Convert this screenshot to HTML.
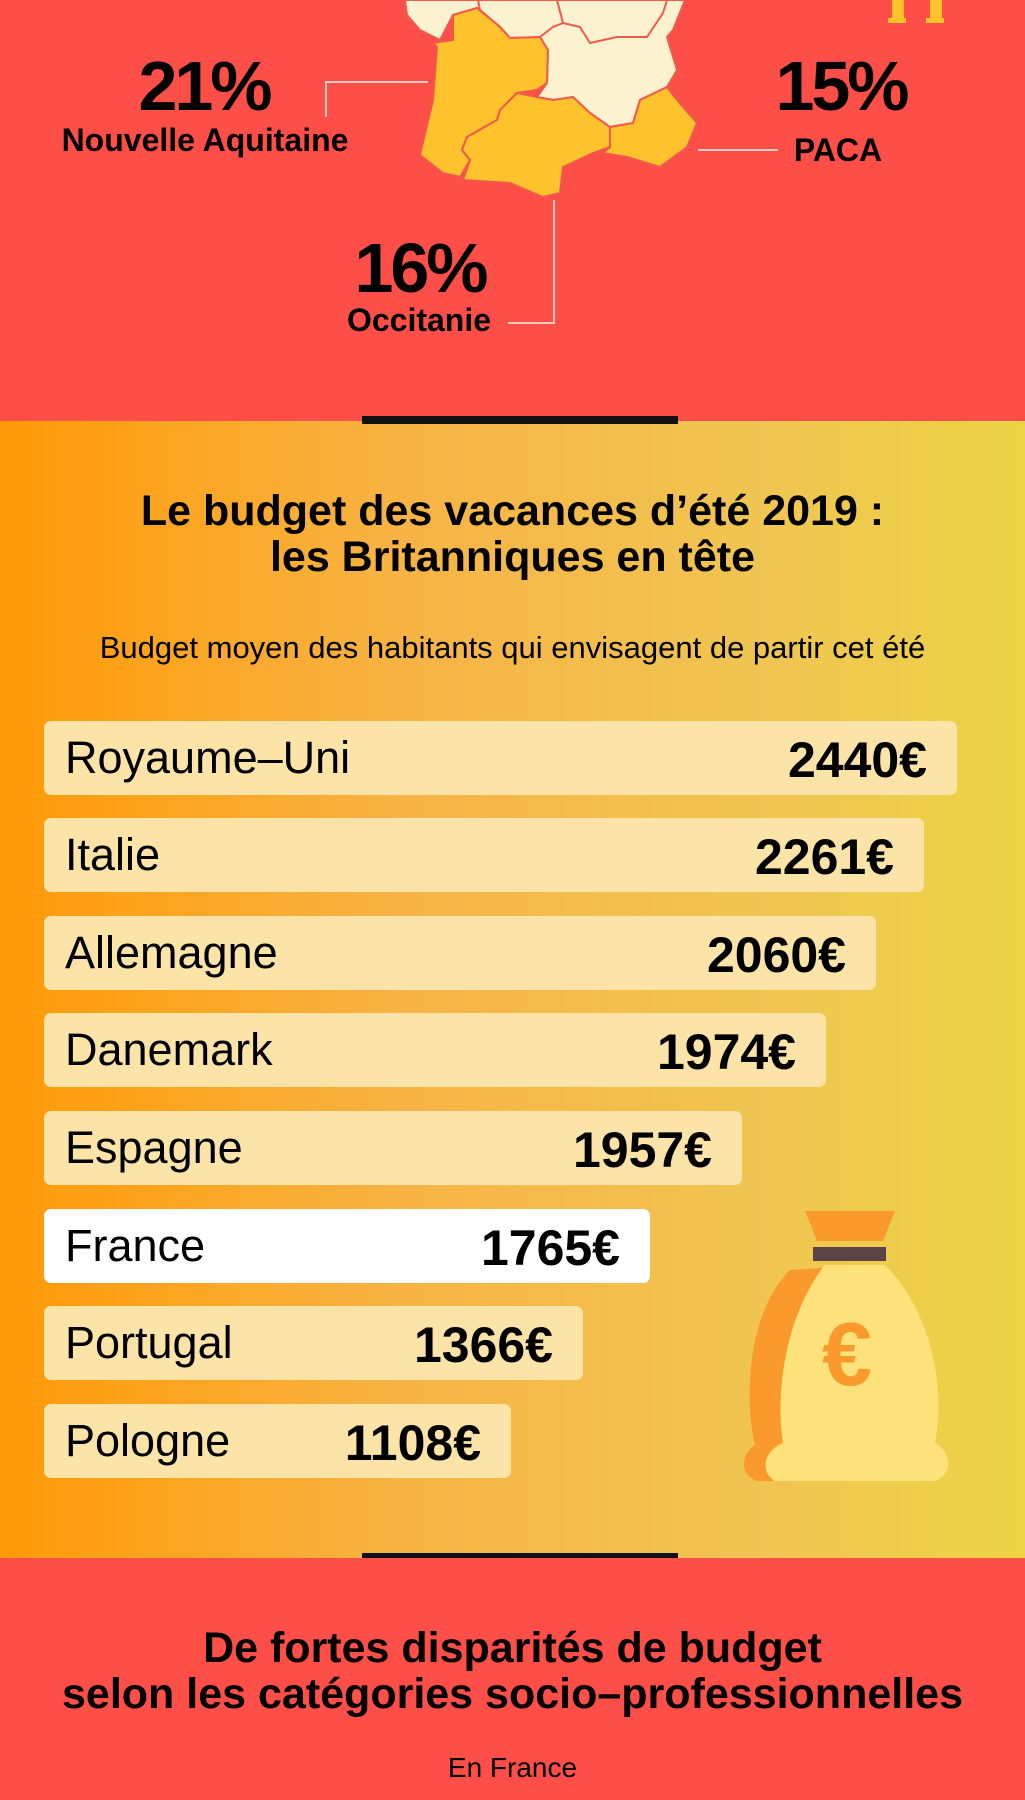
<!DOCTYPE html>
<html><head><meta charset="utf-8">
<style>
*{margin:0;padding:0;box-sizing:border-box}
body{width:1025px;height:1800px;position:relative;overflow:hidden;font-family:"Liberation Sans",sans-serif;background:#fe4e48;color:#000}
.abs{position:absolute}
.c{text-align:center}
.big{font-weight:bold;font-size:70px;letter-spacing:-3px}
.lab{font-weight:bold;font-size:32px}
.grad{position:absolute;left:0;top:421px;width:1025px;height:1137px;background:linear-gradient(90deg,#ff9a07 0%,#f7b445 40%,#f0c552 75%,#ecd444 100%)}
.bar{position:absolute;left:44px;height:74px;background:#fce3a8;border-radius:7px}
.bar .n{position:absolute;left:21px;top:11px;font-size:45px}
.bar .v{position:absolute;right:30px;top:10px;font-size:50px;font-weight:bold;letter-spacing:0px}
</style></head><body>
<svg class="abs" style="left:0;top:0" width="1025" height="421">
<polygon points="405,0 685,0 673,30 667,37 677,70 667,87 640,100 633,123 610,127 590,113 573,97 553,100 537,97 547,83 548,50 540,37 510,38 500,27 477,8 453,15 440,40 420,30 407,15" fill="#fdf2cf" stroke="#f05a4a" stroke-width="2"/>
<polyline points="478,0 480,10 500,27" fill="none" stroke="#f05a4a" stroke-width="2"/>
<polyline points="557,0 563,23 553,27 540,37" fill="none" stroke="#f05a4a" stroke-width="2"/>
<polyline points="563,23 580,27 590,43 617,37 647,37 663,13 667,0" fill="none" stroke="#f05a4a" stroke-width="2"/>
<polygon points="453,15 477,8 500,27 510,38 540,37 548,50 547,83 537,90 517,93 500,110 497,120 467,137 462,150 470,160 460,177 443,173 420,155 433,100 437,47 433,43 453,40" fill="#fec22d" stroke="#f05a4a" stroke-width="2"/>
<polygon points="467,137 497,120 500,110 517,93 537,97 553,100 573,97 590,113 610,127 610,147 593,153 563,167 560,193 543,197 510,183 463,180 470,160 462,150" fill="#fec22d" stroke="#f05a4a" stroke-width="2"/>
<polygon points="610,127 633,123 640,100 667,87 677,100 697,123 687,147 660,167 627,157 603,153 610,147" fill="#fec22d" stroke="#f05a4a" stroke-width="2"/>
<rect x="892" y="0" width="12" height="20" fill="#fec22d"/><rect x="930" y="0" width="12" height="20" fill="#fec22d"/>
<rect x="888" y="18" width="18" height="5" fill="#fec22d"/><rect x="926" y="18" width="18" height="5" fill="#fec22d"/>
<polyline points="326,117 326,82 428,82" fill="none" stroke="#f6c9c0" stroke-width="2"/>
<line x1="698" y1="150" x2="778" y2="150" stroke="#f6c9c0" stroke-width="2"/>
<polyline points="554,200 554,323 508,323" fill="none" stroke="#f6c9c0" stroke-width="2"/>
</svg>
<div class="abs big c" style="left:104px;top:46px;width:200px">21%</div>
<div class="abs lab c" style="left:20px;top:122px;width:370px">Nouvelle Aquitaine</div>
<div class="abs big c" style="left:741px;top:46px;width:200px">15%</div>
<div class="abs lab c" style="left:758px;top:132px;width:160px">PACA</div>
<div class="abs big c" style="left:320px;top:228px;width:200px">16%</div>
<div class="abs lab c" style="left:309px;top:302px;width:220px">Occitanie</div>

<div class="grad"></div>
<div class="abs" style="left:362px;top:416px;width:316px;height:8px;background:#111"></div>
<div class="abs" style="left:362px;top:1553px;width:316px;height:8px;background:#111"></div>
<div class="abs" style="left:0;top:1558px;width:1025px;height:242px;background:#fe4e48"></div>

<div class="abs c" style="left:0;top:488px;width:1025px;font-size:43px;font-weight:bold;line-height:46px">Le budget des vacances d’été 2019 :<br>les Britanniques en tête</div>
<div class="abs c" style="left:0;top:630px;width:1025px;font-size:31px">Budget moyen des habitants qui envisagent de partir cet été</div>

<div class="bar" style="top:721px;width:913px"><span class="n">Royaume–Uni</span><span class="v">2440€</span></div>
<div class="bar" style="top:818px;width:880px"><span class="n">Italie</span><span class="v">2261€</span></div>
<div class="bar" style="top:916px;width:832px"><span class="n">Allemagne</span><span class="v">2060€</span></div>
<div class="bar" style="top:1013px;width:782px"><span class="n">Danemark</span><span class="v">1974€</span></div>
<div class="bar" style="top:1111px;width:698px"><span class="n">Espagne</span><span class="v">1957€</span></div>
<div class="bar" style="top:1209px;width:606px;background:#fff"><span class="n">France</span><span class="v">1765€</span></div>
<div class="bar" style="top:1306px;width:539px"><span class="n">Portugal</span><span class="v">1366€</span></div>
<div class="bar" style="top:1404px;width:467px"><span class="n">Pologne</span><span class="v">1108€</span></div>

<svg class="abs" style="left:735px;top:1205px" width="225" height="280">
<path d="M70 6 L160 6 L148 36 L82 36 Z" fill="#fb9a2c"/>
<path d="M55 65 C10 110 10 200 20 240 C5 250 5 270 22 276 L130 276 L130 60 Z" fill="#fb9a2c"/>
<path d="M90 60 L150 60 C200 110 210 190 200 238 C215 246 220 268 200 276 L40 276 C25 268 28 246 48 238 C40 190 50 110 90 60 Z" fill="#fde17a"/>
<rect x="78" y="42" width="73" height="14" fill="#5b4346"/>
<text x="112" y="180" font-family="Liberation Sans,sans-serif" font-size="90" font-weight="bold" fill="#fb9a2c" text-anchor="middle">€</text>
</svg>

<div class="abs c" style="left:0;top:1625px;width:1025px;font-size:43px;font-weight:bold;line-height:46px">De fortes disparités de budget<br>selon les catégories socio–professionnelles</div>
<div class="abs c" style="left:0;top:1752px;width:1025px;font-size:28px">En France</div>
</body></html>
